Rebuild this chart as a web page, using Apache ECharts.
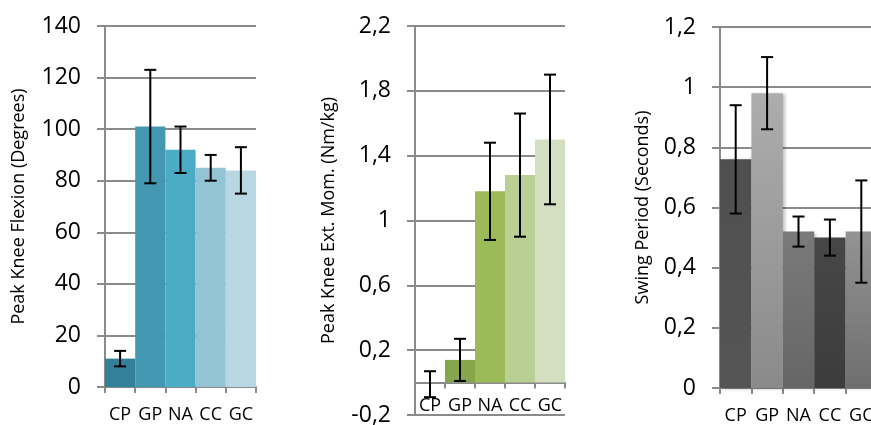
<!DOCTYPE html>
<html><head><meta charset="utf-8">
<script src="https://cdn.jsdelivr.net/npm/echarts@6/dist/echarts.min.js"></script>
<style>html,body{margin:0;padding:0;background:#fff}#c{width:871px;height:425px}</style>
</head><body><div id="c"></div>
<script>
const categories = ['CP','GP','NA','CC','GC'];

const flexMean = [11, 101, 92, 85, 84];
const flexLow  = [8, 79, 83, 80, 75];
const flexHigh = [14, 123, 101, 90, 93];
const flexColors = ['#33809a','#4397b0','#4bacc6','#93c4d6','#b7d7e3'];

const momMean = [0, 0.14, 1.18, 1.28, 1.50];
const momLow  = [-0.09, 0.01, 0.88, 0.90, 1.10];
const momHigh = [0.07, 0.27, 1.48, 1.66, 1.90];
const momColors = ['#76923c','#86a64e','#9bbb59','#b9cf93','#d3dfc0'];

const swingMean = [0.76, 0.98, 0.52, 0.50, 0.52];
const swingLow  = [0.58, 0.86, 0.47, 0.44, 0.35];
const swingHigh = [0.94, 1.10, 0.57, 0.56, 0.69];
const swingTop    = ['#4f4f4f','#adadad','#7a7a7a','#474747','#939393'];
const swingBottom = ['#555555','#8a8a8a','#666666','#3c3c3c','#6e6e6e'];

const FONT = 'Open Sans';
const AX = '#8a8a8a';
const comma = v => String(Math.round(v*10)/10).replace('.', ',');

const chart = echarts.init(document.getElementById('c'), null, {renderer:'canvas'});

function errSeries(idx, low, high){
  return {
    type:'custom', xAxisIndex:idx, yAxisIndex:idx, z:10,
    data: categories.map((c,i)=>[i, low[i], high[i]]),
    renderItem:(params, api)=>{
      const x = api.value(0);
      const p1 = api.coord([x, api.value(1)]);
      const p2 = api.coord([x, api.value(2)]);
      const w = 6;
      const st = {stroke:'#000', lineWidth:2};
      return {type:'group', children:[
        {type:'line', shape:{x1:p1[0],y1:p1[1],x2:p2[0],y2:p2[1]}, style:st},
        {type:'line', shape:{x1:p1[0]-w,y1:p1[1],x2:p1[0]+w,y2:p1[1]}, style:st},
        {type:'line', shape:{x1:p2[0]-w,y1:p2[1],x2:p2[0]+w,y2:p2[1]}, style:st}
      ]};
    }
  };
}

function xAxis(idx, margin){
  return {
    type:'category', gridIndex:idx, data:categories,
    axisLine:{lineStyle:{color:AX, width:2}},
    axisTick:{show:true, length:6, lineStyle:{color:AX, width:2}},
    axisLabel:{color:'#000', fontFamily:FONT, fontSize:18, margin:margin, interval:0, hideOverlap:false}
  };
}
function yAxis(idx, min, max, interval, name, gap, fmt){
  return {
    type:'value', gridIndex:idx, min:min, max:max, interval:interval,
    name:name, nameLocation:'middle', nameGap:gap, nameRotate:90,
    nameTextStyle:{color:'#000', fontFamily:FONT, fontSize:18},
    axisLine:{show:true, lineStyle:{color:AX, width:2}},
    axisTick:{show:true, length:8, lineStyle:{color:AX, width:2}},
    splitLine:{show:true, lineStyle:{color:AX, width:2}},
    axisLabel:{color:'#000', fontFamily:FONT, fontSize:23, margin:24, formatter:fmt}
  };
}

chart.setOption({
  animation:false,
  grid:[
    {left:105, right:615, top:26, bottom:38, outerBoundsMode:'none', containLabel:false},
    {left:415, right:306, top:26, bottom:10, outerBoundsMode:'none', containLabel:false},
    {left:720, right:-6, top:27, bottom:37, outerBoundsMode:'none', containLabel:false}
  ],
  xAxis:[xAxis(0,19), xAxis(1,-18), xAxis(2,19)],
  yAxis:[
    yAxis(0, 0, 140, 20, 'Peak Knee Flexion (Degrees)', 77, v=>String(v)),
    yAxis(1, -0.2, 2.2, 0.4, 'Peak Knee Ext. Mom. (Nm/kg)', 77, comma),
    yAxis(2, 0, 1.2, 0.2, 'Swing Period (Seconds)', 68, comma)
  ],
  series:[
    {type:'bar', xAxisIndex:0, yAxisIndex:0, barCategoryGap:'0%',
     data: flexMean.map((v,i)=>({value:v, itemStyle:{color:flexColors[i]}}))},
    {type:'bar', xAxisIndex:1, yAxisIndex:1, barCategoryGap:'0%',
     data: momMean.map((v,i)=>({value:v, itemStyle:{color:momColors[i]}}))},
    {type:'bar', xAxisIndex:2, yAxisIndex:2, barCategoryGap:'0%',
     data: swingMean.map((v,i)=>({value:v, itemStyle:{
       color:new echarts.graphic.LinearGradient(0,0,0,1,[{offset:0,color:swingTop[i]},{offset:1,color:swingBottom[i]}]),
       shadowBlur:3, shadowColor:'rgba(0,0,0,0.25)', shadowOffsetX:2, shadowOffsetY:1}}))},
    errSeries(0, flexLow, flexHigh),
    errSeries(1, momLow, momHigh),
    errSeries(2, swingLow, swingHigh)
  ]
});
</script></body></html>
